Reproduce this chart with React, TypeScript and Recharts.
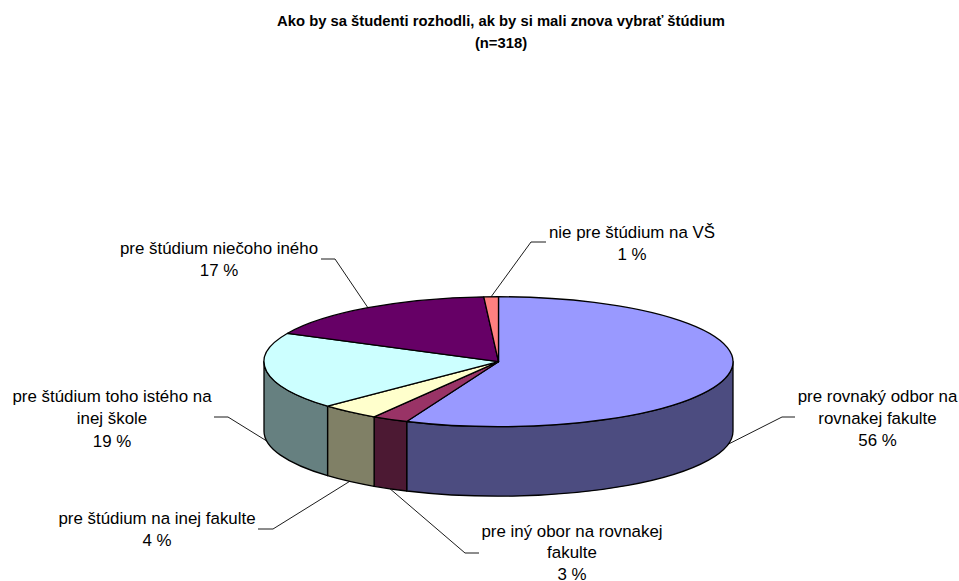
import { Pie, PieChart } from 'recharts'

const categories = [
  ['pre rovnaký odbor na', 'rovnakej fakulte'],
  ['pre iný obor na rovnakej', 'fakulte'],
  ['pre štúdium na inej fakulte'],
  ['pre štúdium toho istého na', 'inej škole'],
  ['pre štúdium niečoho iného'],
  ['nie pre štúdium na VŠ'],
]
const shownPercent = [56, 3, 4, 19, 17, 1]
const sliceValues = [56.4, 2.5, 4.1, 19.2, 16.8, 1.0]
const topColors = ['#9999FF', '#993366', '#FFFFCC', '#CCFFFF', '#660066', '#FF8080']
const wallColors = ['#4C4C80', '#4C1933', '#808066', '#668080', '#330033', '#804040']

// text centre + first line y, and the elbow of each leader
const labelBoxes = [
  { x: 877.5, y: 396, gap: 22, elbow: [782, 417], end: 795 },
  { x: 572, y: 531, gap: 21.3, elbow: [465, 553], end: 479 },
  { x: 157, y: 518, gap: 22.3, elbow: [273, 529], end: 258 },
  { x: 112, y: 396, gap: 22.3, elbow: [228, 417], end: 214 },
  { x: 219, y: 248, gap: 22.3, elbow: [335, 259], end: 321 },
  { x: 632, y: 232, gap: 22.3, elbow: [531, 242], end: 546 },
]

const WIDTH = 959
const HEIGHT = 581
const CX = 498.5
const CY = 361.7
const RX = 234.5
const RY = 65
const DEPTH = 69.5
const FONT = '"Liberation Sans", Arial, sans-serif'

const chartData = sliceValues.map((value, i) => ({ name: categories[i].join(' '), value, fill: topColors[i] }))

function rim(cx: number, cy: number, rx: number, angle: number) {
  const rad = (angle * Math.PI) / 180
  return [cx + rx * Math.cos(rad), cy - rx * (RY / RX) * Math.sin(rad)]
}

function Slice3D(props: any) {
  const { cx, cy, outerRadius: rx, startAngle, endAngle, index, fill } = props
  const ry = rx * (RY / RX)
  const [sx, sy] = rim(cx, cy, rx, startAngle)
  const [ex, ey] = rim(cx, cy, rx, endAngle)
  const large = Math.abs(endAngle - startAngle) > 180 ? 1 : 0
  const top = `M${cx},${cy} L${sx},${sy} A${rx},${ry} 0 ${large} 1 ${ex},${ey} Z`

  // only the front half of the rim has a visible wall
  const wallFrom = Math.min(startAngle, 0)
  const wallTo = Math.max(endAngle, -180)
  let wall = null
  if (wallFrom > wallTo) {
    const [ax, ay] = rim(cx, cy, rx, wallFrom)
    const [bx, by] = rim(cx, cy, rx, wallTo)
    wall = (
      <path
        d={`M${ax},${ay} A${rx},${ry} 0 0 1 ${bx},${by} L${bx},${by + DEPTH} A${rx},${ry} 0 0 0 ${ax},${ay + DEPTH} Z`}
        fill={wallColors[index]}
        stroke="#000"
        strokeWidth={1.3}
        strokeLinejoin="round"
      />
    )
  }

  return (
    <g>
      {wall}
      <path d={top} fill={fill} stroke="#000" strokeWidth={1.3} strokeLinejoin="round" />
    </g>
  )
}

function SliceLabel(props: any) {
  const { cx, cy, outerRadius, midAngle, index } = props
  const box = labelBoxes[index]
  const [px, py] = rim(cx, cy, outerRadius, midAngle)
  // front slices hang their leader from the lower edge of the wall
  const isFront = Math.sin((midAngle * Math.PI) / 180) < 0
  const startY = isFront ? py + DEPTH : py
  const lines = [...categories[index], `${shownPercent[index]} %`]

  return (
    <g>
      <polyline
        points={`${px},${startY} ${box.elbow[0]},${box.elbow[1]} ${box.end},${box.elbow[1]}`}
        fill="none"
        stroke="#000"
        strokeWidth={0.9}
      />
      <text x={box.x} y={box.y} textAnchor="middle" fontFamily={FONT} fontSize={16.9} fill="#000">
        {lines.map((line, i) => (
          <tspan key={i} x={box.x} y={box.y + i * box.gap} dy="0.36em">
            {line}
          </tspan>
        ))}
      </text>
    </g>
  )
}

export default function App() {
  return (
    <div style={{ position: 'absolute', left: 0, top: 0, width: WIDTH, height: HEIGHT, background: '#fff' }}>
      <div
        style={{
          position: 'absolute',
          left: 0,
          top: 10,
          width: 1002,
          textAlign: 'center',
          fontFamily: FONT,
          fontSize: 14.8,
          fontWeight: 700,
          lineHeight: '22px',
          color: '#000',
        }}
      >
        Ako by sa študenti rozhodli, ak by si mali znova vybrať štúdium
        <br />
        (n=318)
      </div>
      <PieChart width={WIDTH} height={HEIGHT} margin={{ top: 0, right: 0, bottom: 0, left: 0 }}>
        <Pie
          data={chartData}
          dataKey="value"
          cx={CX}
          cy={CY}
          innerRadius={0}
          outerRadius={RX}
          startAngle={90}
          endAngle={-270}
          stroke="#000"
          isAnimationActive={false}
          shape={Slice3D}
          label={SliceLabel}
          labelLine={false}
        />
      </PieChart>
    </div>
  )
}
